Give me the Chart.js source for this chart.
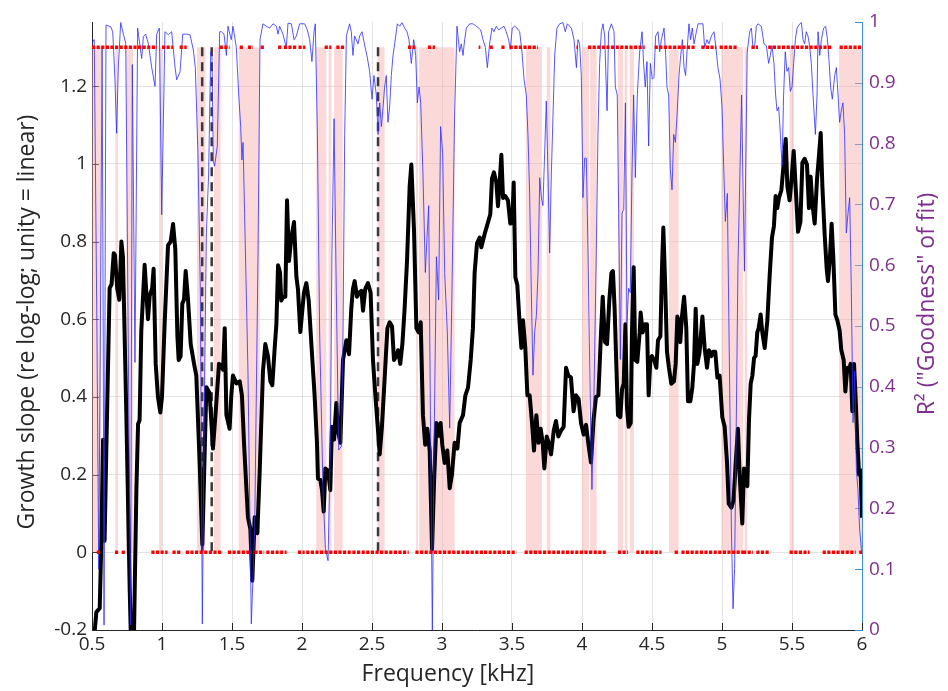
<!DOCTYPE html>
<html lang="en">
<head>
<meta charset="UTF-8">
<title>Growth slope and R²</title>
<script src="https://cdn.jsdelivr.net/npm/chart.js"></script>
<style>
  body { margin: 0; background: #fff; }
  #wrap { width: 948px; height: 691px; position: relative; }
</style>
</head>
<body>
<div id="wrap"><canvas id="chartCanvas"></canvas></div>
<script>
// growth slope (black, left axis)
const freqSlope = [0.519,0.531,0.555,0.567,0.579,0.59,0.602,0.626,0.64,0.655,0.664,0.68,0.695,0.71,0.721,0.745,0.769,0.78,0.798,0.817,0.829,0.84,0.852,0.876,0.888,0.9,0.912,0.93,0.94,0.955,0.971,0.988,1.0,1.019,1.043,1.062,1.079,1.095,1.11,1.119,1.133,1.145,1.157,1.169,1.186,1.205,1.229,1.245,1.269,1.288,1.305,1.317,1.34,1.364,1.388,1.407,1.424,1.436,
  1.448,1.46,1.483,1.495,1.507,1.531,1.555,1.571,1.586,1.602,1.614,1.631,1.645,1.662,1.681,1.698,1.721,1.738,1.757,1.774,1.788,1.805,1.817,1.829,1.843,1.852,1.867,1.881,1.893,1.907,1.924,1.943,1.96,1.971,1.988,2.0,2.014,2.031,2.048,2.067,2.09,2.107,2.114,2.131,2.143,2.155,2.167,2.186,2.202,2.214,2.229,2.245,2.257,2.274,2.293,2.317,2.336,2.352,2.364,
  2.376,2.393,2.407,2.424,2.436,2.452,2.471,2.49,2.507,2.524,2.543,2.555,2.571,2.59,2.61,2.626,2.643,2.657,2.674,2.686,2.702,2.717,2.733,2.75,2.769,2.781,2.8,2.817,2.833,2.848,2.864,2.88,2.895,2.912,2.929,2.943,2.96,2.976,2.99,3.002,3.019,3.038,3.055,3.071,3.09,3.11,3.126,3.15,3.167,3.186,3.205,3.221,3.233,3.25,3.269,
  3.281,3.305,3.329,3.345,3.357,3.371,3.388,3.4,3.412,3.424,3.436,3.452,3.471,3.488,3.502,3.512,3.524,3.538,3.555,3.567,3.579,3.595,3.61,3.626,3.643,3.657,3.674,3.69,3.705,3.719,3.731,3.748,3.762,3.779,3.798,3.814,3.831,3.85,3.869,3.886,3.902,3.921,3.94,3.957,3.976,3.993,4.012,4.029,4.048,4.064,4.083,4.1,4.117,4.136,4.148,4.164,4.179,4.195,
  4.21,4.221,4.233,4.245,4.257,4.274,4.286,4.298,4.31,4.321,4.333,4.348,4.357,4.369,4.381,4.395,4.412,4.419,4.433,4.448,4.464,4.476,4.488,4.5,4.519,4.531,4.543,4.56,4.571,4.581,4.595,4.607,4.621,4.638,4.657,4.669,4.681,4.693,4.702,4.714,4.729,4.745,4.757,4.774,4.788,4.8,4.812,4.824,4.84,4.86,4.876,4.893,4.907,4.924,4.936,4.952,4.967,4.983,5.002,5.019,5.036,5.048,5.067,5.083,5.098,5.114,5.126,5.145,
  5.157,5.169,5.181,5.193,5.205,5.217,5.229,5.24,5.252,5.262,5.276,5.288,5.305,5.324,5.34,5.357,5.371,5.383,5.395,5.407,5.424,5.44,5.455,5.467,5.483,5.495,5.512,5.526,5.543,5.56,5.574,5.59,5.607,5.621,5.633,5.645,5.662,5.679,5.693,5.705,5.717,5.733,5.748,5.757,5.771,5.783,5.795,5.81,5.824,5.84,5.852,5.869,5.881,5.895,5.907,5.919,5.931,5.943,5.955,5.967,5.979,5.99,6.0];
const slope = [-0.205,-0.154,-0.144,0.03,0.29,0.03,0.26,0.68,0.69,0.77,0.765,0.68,0.65,0.80,0.76,0.36,-0.09,-0.25,-0.25,0.16,0.33,0.34,0.57,0.74,0.67,0.60,0.66,0.68,0.73,0.485,0.40,0.36,0.40,0.59,0.79,0.80,0.845,0.78,0.556,0.495,0.505,0.64,0.65,0.724,0.65,0.536,0.485,0.455,0.23,0.02,0.26,0.425,0.41,0.267,0.384,0.485,0.48,0.47,
  0.577,0.353,0.318,0.404,0.455,0.435,0.44,0.404,0.28,0.17,0.09,0.06,-0.073,0.09,0.049,0.21,0.465,0.536,0.505,0.44,0.43,0.526,0.587,0.739,0.72,0.648,0.658,0.658,0.906,0.75,0.81,0.85,0.709,0.678,0.567,0.614,0.668,0.693,0.648,0.536,0.404,0.282,0.19,0.186,0.16,0.105,0.216,0.21,0.16,0.323,0.29,0.384,0.313,0.282,0.495,0.546,0.51,0.627,0.678,
  0.698,0.658,0.668,0.673,0.622,0.678,0.693,0.668,0.495,0.404,0.313,0.252,0.323,0.445,0.577,0.592,0.582,0.495,0.505,0.52,0.485,0.536,0.627,0.749,0.942,0.998,0.83,0.577,0.566,0.592,0.353,0.277,0.318,0.262,0.008,0.18,0.333,0.30,0.333,0.277,0.23,0.262,0.165,0.20,0.282,0.267,0.333,0.353,0.404,0.424,0.495,0.577,0.719,0.795,0.81,
  0.785,0.82,0.85,0.87,0.962,0.978,0.952,0.891,0.952,1.023,0.912,0.917,0.906,0.846,0.85,0.952,0.708,0.688,0.587,0.526,0.597,0.526,0.404,0.404,0.333,0.262,0.353,0.282,0.318,0.282,0.216,0.298,0.282,0.252,0.313,0.338,0.298,0.313,0.323,0.475,0.455,0.45,0.363,0.404,0.394,0.333,0.303,0.328,0.272,0.231,0.343,0.40,0.404,0.566,0.658,0.541,0.536,0.648,
  0.719,0.724,0.627,0.485,0.353,0.348,0.42,0.434,0.587,0.374,0.323,0.333,0.566,0.734,0.495,0.49,0.566,0.617,0.566,0.587,0.587,0.404,0.495,0.505,0.49,0.475,0.546,0.556,0.729,0.836,0.678,0.516,0.475,0.434,0.44,0.485,0.607,0.592,0.541,0.607,0.658,0.577,0.389,0.389,0.424,0.485,0.627,0.485,0.516,0.607,0.526,0.475,0.52,0.505,0.516,0.516,0.45,0.455,0.348,0.323,0.231,0.125,0.115,0.135,0.231,0.318,0.20,0.074,
  0.216,0.211,0.17,0.343,0.434,0.455,0.50,0.505,0.566,0.577,0.612,0.566,0.526,0.597,0.709,0.81,0.84,0.917,0.886,0.912,0.932,0.998,1.064,0.942,0.906,0.952,1.033,0.942,0.825,0.85,1.003,1.013,0.998,0.886,0.967,0.90,0.846,0.962,1.023,1.079,0.942,0.82,0.729,0.698,0.759,0.846,0.759,0.612,0.597,0.571,0.521,0.495,0.414,0.475,0.47,0.485,0.363,0.485,0.394,0.282,0.20,0.211,0.089];

// goodness of fit (blue, right axis)
const freqR2 = [0.5,0.516,0.535,0.548,0.56,0.572,0.58,0.586,0.594,0.6,0.634,0.648,0.664,0.676,0.688,0.705,0.724,0.741,0.758,0.776,0.788,0.807,0.826,0.855,0.867,0.883,0.902,0.926,0.95,0.962,0.981,0.998,1.021,1.045,1.069,1.093,1.105,1.129,1.148,1.176,1.2,1.224,1.238,1.257,1.274,1.288,1.305,1.317,1.333,1.348,1.357,1.367,1.376,1.395,1.412,
  1.424,1.443,1.46,1.471,1.495,1.507,1.531,1.548,1.562,1.571,1.579,1.59,1.614,1.638,1.662,1.686,1.7,1.721,1.745,1.769,1.793,1.817,1.829,1.84,1.864,1.888,1.9,1.924,1.943,1.96,1.983,2.019,2.038,2.055,2.071,2.086,2.095,2.11,2.126,2.15,2.167,2.186,2.202,2.214,2.229,2.245,2.262,2.281,2.293,2.305,2.317,2.34,
  2.352,2.364,2.376,2.4,2.412,2.429,2.448,2.464,2.483,2.5,2.514,2.531,2.543,2.555,2.567,2.579,2.59,2.602,2.614,2.626,2.638,2.65,2.662,2.681,2.698,2.714,2.733,2.75,2.764,2.781,2.798,2.812,2.824,2.836,2.848,2.864,2.881,2.893,2.905,2.917,2.931,2.943,2.96,2.976,2.99,3.005,3.019,3.038,3.055,3.071,3.09,3.107,3.126,3.138,3.15,3.162,3.174,3.198,3.221,3.245,3.262,
  3.276,3.293,3.31,3.324,3.34,3.357,3.371,3.388,3.405,3.424,3.443,3.459,3.476,3.488,3.502,3.519,3.536,3.555,3.571,3.586,3.602,3.614,3.626,3.638,3.65,3.662,3.674,3.686,3.698,3.71,3.721,3.733,3.745,3.757,3.769,3.781,3.793,3.805,3.821,3.84,3.864,3.881,3.895,3.924,3.943,3.96,3.971,3.983,3.995,4.007,4.019,4.031,4.043,4.06,4.071,4.086,4.102,4.114,4.126,4.138,4.15,4.162,4.179,4.19,
  4.21,4.229,4.238,4.252,4.262,4.274,4.286,4.298,4.31,4.321,4.333,4.345,4.357,4.369,4.381,4.395,4.412,4.429,4.44,4.452,4.464,4.476,4.488,4.502,4.514,4.526,4.543,4.555,4.567,4.586,4.598,4.607,4.619,4.631,4.643,4.655,4.667,4.679,4.693,4.705,4.717,4.729,4.74,4.752,4.764,4.776,4.788,4.8,4.817,4.829,4.864,4.876,4.893,4.907,4.924,4.943,4.955,4.971,4.986,5.0,5.012,5.024,5.038,5.05,5.067,5.079,5.09,5.102,5.114,5.14,5.16,5.18,
  5.198,5.21,5.221,5.233,5.245,5.257,5.281,5.3,5.317,5.333,5.345,5.357,5.371,5.383,5.393,5.405,5.417,5.429,5.44,5.452,5.464,5.476,5.488,5.5,5.512,5.524,5.536,5.555,5.567,5.579,5.59,5.602,5.614,5.626,5.638,5.65,5.667,5.679,5.686,5.698,5.71,5.726,5.74,5.752,5.764,5.776,5.788,5.805,5.817,5.829,5.84,5.852,5.864,5.876,5.888,5.9,5.912,5.924,5.936,5.948,5.96,5.971,5.983,5.995,6.0];
const r2 = [0.965,0.971,0.5,0.10,0.5,0.96,0.5,0.008,0.6,0.995,0.992,0.984,0.905,0.817,0.926,0.999,0.98,0.965,0.5,0.008,0.93,0.44,0.99,0.94,0.976,0.98,0.965,0.926,0.894,0.98,0.99,0.683,0.984,0.979,0.984,0.926,0.905,0.918,0.98,0.98,0.979,0.954,0.925,0.783,0.555,0.01,0.426,0.653,0.75,0.951,0.945,0.77,0.763,0.796,0.984,
  0.984,0.98,0.945,0.993,0.971,0.993,0.958,0.88,0.828,0.773,0.802,0.685,0.426,0.01,0.166,0.62,0.971,0.997,0.993,0.99,0.997,0.993,0.98,0.993,0.98,0.958,0.998,0.997,0.971,0.977,0.997,0.997,0.987,0.971,0.935,0.984,0.997,0.815,0.49,0.231,0.134,0.114,0.296,0.62,0.841,0.555,0.296,0.302,0.49,0.815,0.977,0.997,
  0.984,0.945,0.977,0.964,0.977,0.984,0.961,0.945,0.919,0.873,0.912,0.88,0.815,0.867,0.828,0.86,0.893,0.912,0.835,0.86,0.912,0.945,0.964,0.997,0.993,0.999,0.99,0.984,0.971,0.932,0.971,0.945,0.867,0.893,0.867,0.75,0.588,0.646,0.698,0.361,0.0,0.296,0.614,0.543,0.828,0.783,0.588,0.49,0.332,0.555,0.847,0.993,0.951,0.964,0.945,0.971,0.99,0.997,0.997,0.993,0.99,
  0.987,0.971,0.958,0.925,0.964,0.99,0.984,0.993,0.987,0.99,0.993,0.984,0.971,0.955,0.99,0.993,0.99,0.984,0.951,0.906,0.88,0.815,0.718,0.555,0.419,0.49,0.517,0.588,0.744,0.711,0.698,0.783,0.87,0.75,0.62,0.75,0.847,0.945,0.99,0.997,0.999,0.984,0.997,0.99,0.971,0.925,0.971,0.964,0.912,0.711,0.776,0.776,0.62,0.361,0.231,0.393,0.62,0.815,0.932,0.984,0.997,0.977,0.854,0.984,
  0.997,0.984,0.893,0.88,0.685,0.445,0.685,0.692,0.867,0.504,0.562,0.555,0.75,0.88,0.744,0.88,0.951,0.984,0.932,0.893,0.935,0.796,0.932,0.906,0.909,0.977,0.984,0.951,0.971,0.99,0.945,0.893,0.88,0.757,0.724,0.815,0.802,0.847,0.912,0.945,0.971,0.925,0.912,0.958,0.997,0.971,0.99,0.964,0.984,0.997,0.997,0.958,0.971,0.964,0.977,0.984,0.961,0.925,0.906,0.86,0.763,0.672,0.718,0.49,0.166,0.035,0.101,0.341,0.6,0.88,0.59,0.95,
  0.984,0.99,0.958,0.958,0.993,0.997,0.993,0.964,0.961,0.932,0.945,0.961,0.932,0.88,0.854,0.86,0.815,0.763,0.88,0.951,0.919,0.925,0.886,0.893,0.932,0.971,0.99,0.997,0.999,0.971,0.964,0.984,0.977,0.961,0.932,0.88,0.815,0.88,0.984,0.945,0.971,0.99,0.993,0.974,0.938,0.893,0.873,0.912,0.925,0.88,0.835,0.854,0.867,0.815,0.653,0.685,0.711,0.555,0.341,0.426,0.263,0.231,0.166,0.134,0.127];

// shaded stretches, dot rows and marker lines (kHz)
const poorFitBands = [[0.5,0.565],[0.667,0.686],[0.745,0.793],[0.979,1.0],[1.25,1.31],[1.371,1.419],[1.548,1.698],[2.102,2.174],[2.19,2.21],[2.229,2.29],[2.538,2.59],[2.815,2.828],[2.836,3.09],[3.6,3.714],[3.748,3.774],[4.0,4.05],[4.058,4.105],[4.257,4.293],[4.305,4.324],[4.341,4.371],[4.621,4.69],[4.995,5.15],[5.162,5.18],[5.483,5.514],[5.836,6.0]];
const topDotRuns = [[0.5,0.964],[1.0,1.08],[1.126,1.176],[1.412,1.483],[1.555,1.579],[1.614,1.65],[1.705,1.735],[1.829,1.86],[1.87,1.96],[1.975,2.024],[2.162,2.21],[2.245,2.305],[2.757,2.81],[2.9,2.95],[3.262,3.274],[3.34,3.371],[3.424,3.448],[3.483,3.686],[3.96,3.971],[4.043,4.448],[4.519,4.805],[4.852,4.96],[4.983,5.114],[5.21,5.257],[5.33,5.783],[5.84,6.0]];
const zeroDotRuns = [[0.534,0.569],[0.664,0.688],[0.712,0.743],[0.924,1.04],[1.075,1.14],[1.17,1.424],[1.471,1.64],[1.66,1.73],[1.745,1.89],[1.971,2.019],[2.03,2.36],[2.36,2.762],[2.81,3.3],[3.3,3.531],[3.59,4.17],[4.257,4.33],[4.388,4.567],[4.662,4.686],[4.71,5.15],[5.15,5.221],[5.245,5.338],[5.483,5.626],[5.719,5.955],[5.98,6.0]];
const markerFreqs = [1.287, 1.355, 2.543];
const dotRowLevels = [1.3, 0];

const FONT = "'Open Sans', 'Noto Sans', sans-serif";
const PURPLE = '#7e2f8e';
const AXBLUE = '#3a8fd8';

const overlay = {
  id: 'overlay',
  beforeDatasetsDraw(chart) {
    const { ctx, chartArea: a, scales: { x, y, y2 } } = chart;
    ctx.save();
    ctx.lineWidth = 1;
    ctx.strokeStyle = '#262626';
    x.ticks.forEach(t => {
      const px = Math.round(x.getPixelForValue(t.value)) + 0.5;
      ctx.beginPath(); ctx.moveTo(px, a.bottom); ctx.lineTo(px, a.bottom - 7); ctx.stroke();
    });
    y.ticks.forEach(t => {
      const py = Math.round(y.getPixelForValue(t.value)) + 0.5;
      ctx.beginPath(); ctx.moveTo(a.left, py); ctx.lineTo(a.left + 7, py); ctx.stroke();
    });
    ctx.strokeStyle = AXBLUE;
    y2.ticks.forEach(t => {
      const py = Math.round(y2.getPixelForValue(t.value)) + 0.5;
      ctx.beginPath(); ctx.moveTo(a.right, py); ctx.lineTo(a.right - 7, py); ctx.stroke();
    });

    // pink stretches between the two dot rows
    const top = y.getPixelForValue(dotRowLevels[0]);
    const bot = y.getPixelForValue(dotRowLevels[1]);
    ctx.fillStyle = 'rgba(247,170,170,0.45)';
    poorFitBands.forEach(([f0, f1]) => {
      const l = x.getPixelForValue(f0), r = x.getPixelForValue(f1);
      ctx.fillRect(l, top, r - l, bot - top);
    });

    ctx.setLineDash([9, 6]);
    ctx.lineWidth = 2.5;
    ctx.strokeStyle = '#3a3a3a';
    markerFreqs.forEach(f => {
      const px = x.getPixelForValue(f);
      ctx.beginPath(); ctx.moveTo(px, top); ctx.lineTo(px, bot); ctx.stroke();
    });
    ctx.restore();
  },
  afterDatasetsDraw(chart) {
    const { ctx, scales: { x, y } } = chart;
    ctx.save();
    ctx.strokeStyle = '#ff0000';
    ctx.lineWidth = 3.5;
    ctx.setLineDash([3.2, 1.4]);
    [topDotRuns, zeroDotRuns].forEach((runs, i) => {
      const py = y.getPixelForValue(dotRowLevels[i]);
      runs.forEach(([f0, f1]) => {
        ctx.beginPath();
        ctx.moveTo(x.getPixelForValue(f0), py);
        ctx.lineTo(x.getPixelForValue(f1), py);
        ctx.stroke();
      });
    });
    ctx.restore();
  },
  afterDraw(chart) {
    const { ctx } = chart;
    ctx.save();
    ctx.font = '23px ' + FONT;
    ctx.textAlign = 'center';
    ctx.textBaseline = 'middle';
    ctx.fillStyle = '#262626';
    ctx.fillText('Frequency [kHz]', 448, 674);
    ctx.translate(27, 322);
    ctx.rotate(-Math.PI / 2);
    ctx.fillText('Growth slope (re log-log; unity = linear)', 0, 0);
    ctx.restore();
    ctx.save();
    ctx.font = '23px ' + FONT;
    ctx.textAlign = 'center';
    ctx.textBaseline = 'middle';
    ctx.fillStyle = PURPLE;
    ctx.translate(927, 304);
    ctx.rotate(-Math.PI / 2);
    ctx.fillText('R\u00b2 ("Goodness" of fit)', 0, 0);
    ctx.restore();
  }
};

const fmt = v => String(Math.round(v * 10) / 10);

new Chart(document.getElementById('chartCanvas'), {
  type: 'line',
  data: {
    datasets: [
      {
        label: 'R²',
        data: freqR2.map((f, i) => ({ x: f, y: r2[i] })),
        yAxisID: 'y2',
        borderColor: 'rgba(45,45,255,0.8)',
        borderWidth: 1,
        pointRadius: 0,
        tension: 0,
        order: 1
      },
      {
        label: 'Growth slope',
        data: freqSlope.map((f, i) => ({ x: f, y: slope[i] })),
        yAxisID: 'y',
        borderColor: '#000',
        borderWidth: 4,
        pointRadius: 0,
        tension: 0,
        borderJoinStyle: 'round',
        order: 2
      }
    ]
  },
  options: {
    responsive: true,
    maintainAspectRatio: false,
    animation: false,
    layout: { padding: { top: 22, left: 0, right: 0, bottom: 0 } },
    plugins: { legend: { display: false }, tooltip: { enabled: false } },
    scales: {
      x: {
        type: 'linear',
        min: 0.5, max: 6,
        afterFit: s => { s.height = 61; },
        ticks: { stepSize: 0.5, callback: fmt, color: '#262626', font: { family: FONT, size: 19 }, padding: 3, maxRotation: 0 },
        grid: { color: 'rgba(0,0,0,0.11)', drawTicks: false },
        border: { display: true, color: '#262626', width: 1 }
      },
      y: {
        position: 'left',
        min: -0.2, max: 1.365,
        afterFit: s => { s.width = 92; },
        ticks: { stepSize: 0.2, includeBounds: false, callback: fmt, color: '#262626', font: { family: FONT, size: 19 }, padding: 5 },
        grid: { color: 'rgba(0,0,0,0.11)', drawTicks: false },
        border: { display: true, color: '#262626', width: 1 }
      },
      y2: {
        position: 'right',
        min: 0, max: 1,
        afterFit: s => { s.width = 86; },
        ticks: { stepSize: 0.1, callback: fmt, color: PURPLE, font: { family: FONT, size: 19 }, padding: 7 },
        grid: { display: false, drawTicks: false },
        border: { display: true, color: AXBLUE, width: 1 }
      }
    }
  },
  plugins: [overlay]
});
</script>
</body>
</html>
